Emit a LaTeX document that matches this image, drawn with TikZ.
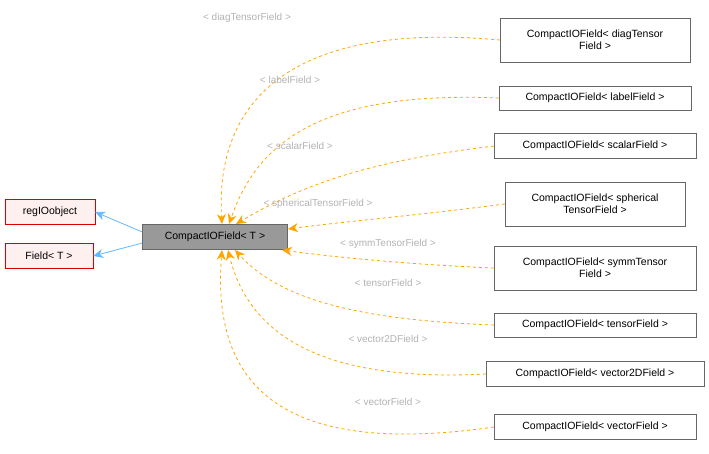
\documentclass[tikz,border=0pt]{standalone}
\usepackage{fontspec}
\setmainfont{Liberation Sans}
\usetikzlibrary{arrows.meta}
\definecolor{dorange}{HTML}{FFA500}
\definecolor{iblue}{HTML}{63B8FF}
\begin{document}
\begin{tikzpicture}[x=1pt,y=-1pt,
 box/.style={draw=black!60,fill=white,font=\fontsize{10.5}{12}\selectfont,align=center,inner sep=3pt},
 red/.style={box,draw=red!85!black,fill=red!6},
 dep/.style={draw=dorange,dashed,line width=0.8pt,-{Stealth[length=10pt,width=9pt]}},
 inh/.style={draw=iblue,line width=0.8pt,-{Stealth[length=10pt,width=9pt]}},
 lab/.style={text=black!30,font=\fontsize{10}{12}\selectfont}]
\useasboundingbox (0,0) rectangle (709,453);
\node[red,minimum width=90pt,minimum height=25pt] (reg) at (50,212) {regIOobject};
\node[red,minimum width=88pt,minimum height=25pt] (fld) at (49,256) {Field< T >};
\node[box,fill=black!40,minimum width=145pt,minimum height=25pt] (c) at (215,237) {CompactIOField< T >};
\node[box,minimum width=190pt,minimum height=44pt] (d1) at (595,40) {CompactIOField< diagTensor\\Field >};
\node[box,minimum width=192pt,minimum height=24pt] (d2) at (595,98) {CompactIOField< labelField >};
\node[box,minimum width=202pt,minimum height=25pt] (d3) at (595,146) {CompactIOField< scalarField >};
\node[box,minimum width=180pt,minimum height=44pt] (d4) at (595,204) {CompactIOField< spherical\\TensorField >};
\node[box,minimum width=202pt,minimum height=44pt] (d5) at (595,268) {CompactIOField< symmTensor\\Field >};
\node[box,minimum width=202pt,minimum height=24pt] (d6) at (595,325) {CompactIOField< tensorField >};
\node[box,minimum width=218pt,minimum height=25pt] (d7) at (595,374) {CompactIOField< vector2DField >};
\node[box,minimum width=202pt,minimum height=25pt] (d8) at (595,427) {CompactIOField< vectorField >};
\draw[inh] (c.west|-0,232) -- (reg.east);
\draw[inh] (c.west|-0,243) -- (fld.east);
\coordinate (t1) at (222,224);\coordinate (t2) at (229,224);\coordinate (t3) at (236,224);
\coordinate (t4) at (288,229);\coordinate (t5) at (282,250);
\coordinate (b1) at (235,250);\coordinate (b2) at (228,250);\coordinate (b3) at (222,250);
\draw[dep] (d1.west) .. controls (280,20) and (215,110) .. (t1);
\draw[dep] (d2.west) .. controls (310,90) and (255,150) .. (t2);
\draw[dep] (d3.west) .. controls (380,160) and (310,180) .. (t3);
\draw[dep] (d4.west) .. controls (420,215) and (340,222) .. (t4);
\draw[dep] (d5.west) .. controls (420,265) and (340,258) .. (t5);
\draw[dep] (d6.west) .. controls (360,320) and (280,300) .. (b1);
\draw[dep] (d7.west) .. controls (330,382) and (250,340) .. (b2);
\draw[dep] (d8.west) .. controls (300,455) and (210,400) .. (b3);
\node[lab] at (247,18) {< diagTensorField >};
\node[lab] at (290,80) {< labelField >};
\node[lab] at (300,146) {< scalarField >};
\node[lab] at (318,204) {< sphericalTensorField >};
\node[lab] at (388,244) {< symmTensorField >};
\node[lab] at (388,283) {< tensorField >};
\node[lab] at (388,339) {< vector2DField >};
\node[lab] at (388,402) {< vectorField >};
\end{tikzpicture}
\end{document}
